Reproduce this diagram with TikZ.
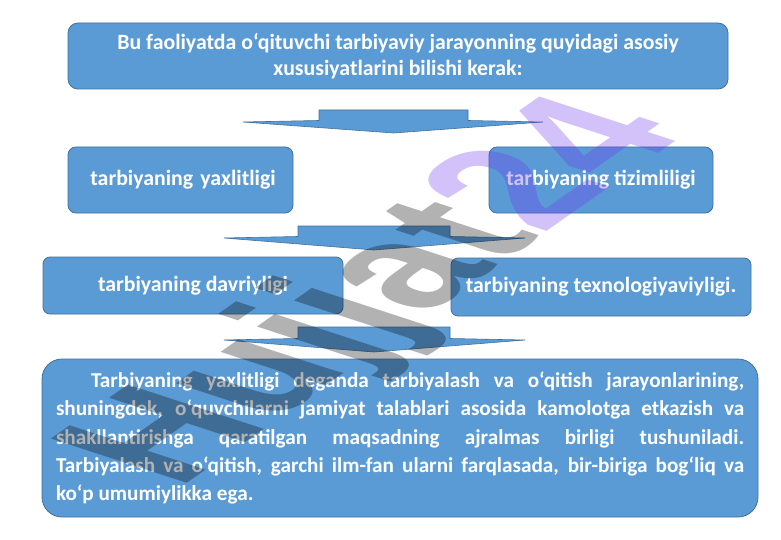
\documentclass[tikz,border=0pt]{standalone}
\usepackage{fontspec}
\setmainfont{Carlito}
\newfontfamily\wmfont{Liberation Sans}
\definecolor{boxblue}{RGB}{91,155,213}
\definecolor{boxedge}{RGB}{65,113,156}
\definecolor{wmviolet}{RGB}{110,50,240}
\begin{document}
\begin{tikzpicture}[x=1pt,y=-1pt,
  box/.style={draw=boxedge, line width=0.8pt, fill=boxblue, text=white,
    font=\bfseries\fontsize{21.8}{26}\selectfont, inner sep=0pt},
  blockarrow/.style={draw=boxedge, line width=0.6pt, fill=boxblue},
  wm/.style={font=\wmfont\bfseries\fontsize{160}{160}\selectfont, inner sep=0pt}]
\useasboundingbox (0,0) rectangle (781,540);
\fill[white] (0,0) rectangle (781,540);

% top box
\node[box, rounded corners=10pt, minimum width=660pt, minimum height=66pt, align=center] (top) at (398,56)
  {Bu faoliyatda o‘qituvchi tarbiyaviy jarayonning quyidagi asosiy\\xususiyatlarini bilishi kerak:};

% arrow 1
\draw[blockarrow] (319,110) -- (468,110) -- (468,120.5) -- (543,122) -- (393.5,133) -- (243,122) -- (319,120.5) -- cycle;

% row 1
\node[box, rounded corners=8pt, minimum width=225pt, minimum height=66pt, text width=225pt, align=center] (yax) at (180.5,180) {\hspace*{5pt}tarbiyaning yaxlitligi};
\node[box, rounded corners=8pt, minimum width=224pt, minimum height=66pt] (tiz) at (601,180) {tarbiyaning tizimliligi};

% arrow 2
\draw[blockarrow] (298,226) -- (450,226) -- (450,236.5) -- (525,238) -- (374,250) -- (224,238) -- (298,236.5) -- cycle;

% row 2
\node[box, rounded corners=7pt, minimum width=300pt, minimum height=57pt] (dav) at (193,285.5) {tarbiyaning davriyligi};
\node[box, rounded corners=7pt, minimum width=300pt, minimum height=58pt] (tex) at (601,287) {tarbiyaning texnologiyaviyligi.};

% arrow 3
\draw[blockarrow] (298,327) -- (450,327) -- (450,338.5) -- (525,340) -- (374,352) -- (224,340) -- (298,338.5) -- cycle;

% bottom box
\node[box, rounded corners=20pt, minimum width=716pt, minimum height=158pt,
      font=\bfseries\fontsize{21.2}{28.2}\selectfont, text width=688pt, align=left] (desc) at (400,438)
  {\spaceskip=0pt\xspaceskip=0pt
   \hbox to 688pt{\hspace*{35pt}Tarbiyaning yaxlitligi deganda tarbiyalash va o‘qitish jarayonlarining,}
   \hbox to 688pt{shuningdek, o‘quvchilarni jamiyat talablari asosida kamolotga etkazish va}
   \hbox to 688pt{shakllantirishga qaratilgan maqsadning ajralmas birligi tushuniladi.}
   \hbox to 688pt{Tarbiyalash va o‘qitish, garchi ilm-fan ularni farqlasada, bir-biriga bog‘liq va}
   \hbox{ko‘p umumiylikka ega.}};

% watermark
\begin{scope}[shift={(178,490)}, cm={0.819,0.574,-1.235,0.403,(0,0)}, transform shape]
  \node[wm, anchor=base west, text=black, text opacity=0.3] (wmA) at (0,0) {Hujjat};
  \node[wm, anchor=base west, text=wmviolet, text opacity=0.3] (wmB) at (wmA.base east) {24};
\end{scope}
\end{tikzpicture}
\end{document}
